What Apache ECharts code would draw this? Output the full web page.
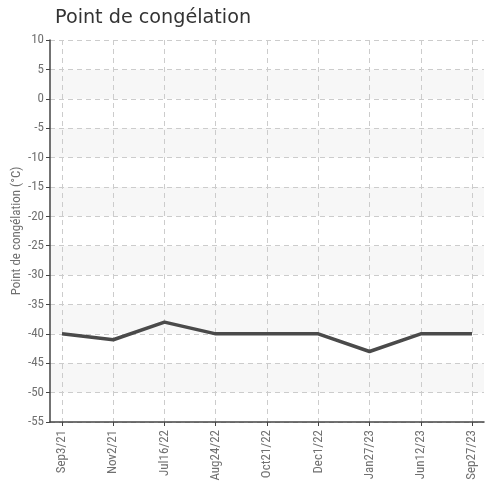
<!DOCTYPE html>
<html><head><meta charset="utf-8">
<script src="https://cdn.jsdelivr.net/npm/echarts@6/dist/echarts.min.js"></script>
<style>html,body{margin:0;padding:0;background:#fff}#c{width:492px;height:486px}</style>
</head><body><div id="c"></div>
<script>
const categories = ['Sep3/21','Nov2/21','Jul16/22','Aug24/22','Oct21/22','Dec1/22','Jan27/23','Jun12/23','Sep27/23'];
const values = [-40, -41, -38, -40, -40, -40, -43, -40, -40];
const yTicks = [-55,-50,-45,-40,-35,-30,-25,-20,-15,-10,-5,0,5,10];
const titleText = 'Point de congélation';
const yName = 'Point de congélation (°C)';

const idx = categories.map((c, i) => i);
const narrow = '"Liberation Sans Narrow", "Roboto Condensed", "DejaVu Sans Condensed", sans-serif';
const chart = echarts.init(document.getElementById('c'), null, {renderer: 'canvas'});
chart.setOption({
  animation: false,
  title: {text: titleText, left: 50, top: 4, textStyle: {fontFamily: 'DejaVu Sans', fontSize: 19.2, fontWeight: 'normal', color: '#333'}},
  grid: {left: 50, right: 8, top: 40, bottom: 64, containLabel: false, outerBoundsMode: 'none'},
  xAxis: {
    type: 'value', min: -0.234, max: 8.234,
    axisLine: {show: true, onZero: false, lineStyle: {color: '#444', width: 1.5}},
    axisTick: {show: true, customValues: idx, length: 4, lineStyle: {color: '#444'}},
    axisLabel: {customValues: idx, rotate: 90, color: '#707070', fontSize: 13, fontFamily: narrow, margin: 8,
      formatter: v => categories[Math.round(v)] || ''},
    splitLine: {show: true, lineStyle: {color: '#ccc', type: [5, 4]}}
  },
  yAxis: {
    type: 'value', min: yTicks[0], max: yTicks[yTicks.length - 1], interval: 5,
    name: yName, nameLocation: 'middle', nameGap: 27, nameRotate: 90, nameMoveOverlap: false,
    nameTextStyle: {color: '#707070', fontSize: 13, fontFamily: narrow},
    axisLine: {show: true, onZero: false, lineStyle: {color: '#444', width: 1.5}},
    axisTick: {show: true, length: 4, lineStyle: {color: '#444'}},
    axisLabel: {color: '#707070', fontSize: 13, fontFamily: narrow, margin: 6},
    splitLine: {show: true, lineStyle: {color: '#ccc', type: [5, 4]}},
    splitArea: {show: true, areaStyle: {color: ['#ffffff', '#f7f7f7']}}
  },
  series: [{
    type: 'line', data: values.map((v, i) => [idx[i], v]),
    showSymbol: false, symbol: 'none',
    lineStyle: {color: '#4a4a4a', width: 3.5}
  }]
});
</script></body></html>
